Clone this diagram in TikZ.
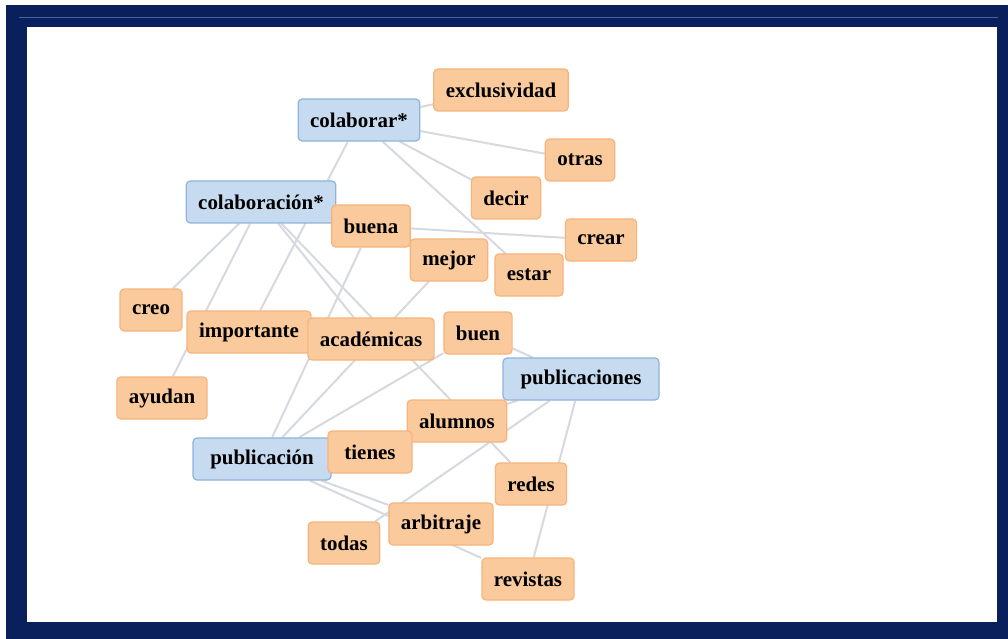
\documentclass[tikz,border=0pt]{standalone}
\usepackage{fontspec}
\setmainfont{Liberation Serif}
\usetikzlibrary{backgrounds}
\definecolor{navyframe}{RGB}{10,32,92}
\definecolor{navyline}{RGB}{70,100,160}
\definecolor{orangefill}{RGB}{250,201,156}
\definecolor{orangeline}{RGB}{246,180,124}
\definecolor{bluefill}{RGB}{198,218,240}
\definecolor{blueline}{RGB}{141,180,219}
\definecolor{edgegray}{RGB}{214,217,224}

\begin{document}
\begin{tikzpicture}
  [x=1bp,y=-1bp,
  	every node/.style={rounded corners=4bp,fill=orangefill,draw=orangeline,
  		line width=1.2bp,minimum height=42bp,inner xsep=12bp,inner ysep=0pt,
  		font=\bfseries\fontsize{21}{24}\selectfont
  		}
  ]
  \useasboundingbox (0,0) rectangle (1008,639);
  \node [fill=bluefill,draw=blueline] (b1) at (359,120) {colaborar*};
  \node [fill=bluefill,draw=blueline] (b2) at (261,202) {colaboración*};
  \node [fill=bluefill,draw=blueline,minimum width=156bp] (b3) at (581,379) {publicaciones};
  \node [fill=bluefill,draw=blueline,minimum width=138bp] (b4) at (262,459) {publicación};
  \node (o1) at (501,90)  {exclusividad};
  \node (o2) at (580,160) {otras};
  \node (o3) at (506,198) {decir};
  \node (o4) at (371,226) {buena};
  \node (o5) at (601,240) {crear};
  \node (o6) at (449,260) {mejor};
  \node (o7) at (529,275) {estar};
  \node (o8) at (151,310) {creo};
  \node (o9) at (249,332) {importante};
  \node (o10) at (371,339) {académicas};
  \node (o11) at (478,333) {buen};
  \node (o12) at (162,398) {ayudan};
  \node (o13) at (457,421) {alumnos};
  \node [minimum width=84bp] (o14) at (370,452) {tienes};
  \node (o15) at (531,484) {redes};
  \node (o16) at (441,524) {arbitraje};
  \node (o17) at (344,543) {todas};
  \node (o18) at (528,579) {revistas};

  \begin{scope}[on background layer]
    \fill [navyframe] (6,5) rectangle (1008,639);
    \draw [navyline, line width=0.8bp] (19,17) -- (998,17);
    \fill [white] (27,27) rectangle (997,622);
    \foreach \from/\to in {b1/o1,b1/o2,b1/o3,b1/o7,b1/o9,b2/o8,b2/o12,b2/o10,b2/o15,
      o4/o5,o4/b4,o6/b4,o11/b4,o11/b3,o13/o14,o13/b3,b3/o17,b3/o18,b4/o16,b4/o18}
      \draw [edgegray, line width=2bp] (\from) -- (\to);
  \end{scope}
\end{tikzpicture}
\end{document}
